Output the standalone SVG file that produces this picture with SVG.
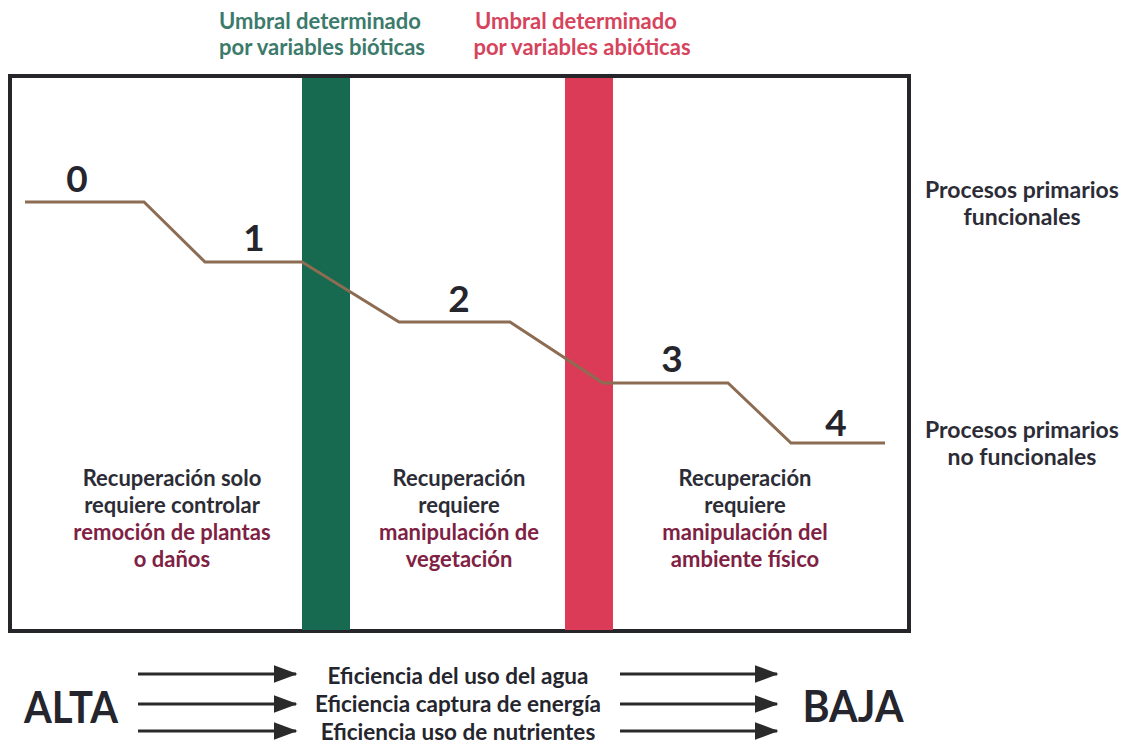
<svg xmlns="http://www.w3.org/2000/svg" width="1133" height="748" viewBox="0 0 1133 748">
<style>
text{font-family:Lato,"Open Sans","Liberation Sans",sans-serif;font-weight:bold;text-anchor:middle}
.top{font-size:22px}
.g{fill:#3c7a6c}
.r{fill:#d6435c}
.reg{font-size:22px;fill:#2c2c36}
.m{fill:#7e2143}
.num{font-size:37px;fill:#25252d}
.side{font-size:23px;fill:#2c2c36}
.eff{font-size:22.5px;fill:#25252d}
.big{font-size:43px;fill:#25252d}
.step{fill:none;stroke:#8c6c52;stroke-width:3;stroke-linejoin:miter}
.arr{stroke:#2a2a2a;stroke-width:3;fill:none}
</style>
<defs>
<marker id="ah" markerWidth="8" markerHeight="6" refX="7.5" refY="3" orient="auto" markerUnits="strokeWidth">
<path d="M0,0 L8,3 L0,6 Z" fill="#2a2a2a"/>
</marker>
</defs>
<rect width="1133" height="748" fill="#ffffff"/>
<g id="frame">
<rect x="10" y="76" width="899" height="555" fill="none" stroke="#26262a" stroke-width="4"/>
</g>
<g id="threshold-biotic">
<rect x="302" y="78" width="48" height="552" fill="#17694f"/>
<text class="top g" x="320" y="29">Umbral determinado</text>
<text class="top g" x="322" y="55">por variables bióticas</text>
</g>
<g id="threshold-abiotic">
<rect x="565" y="78" width="48" height="552" fill="#dc3b57"/>
<text class="top r" x="576" y="29">Umbral determinado</text>
<text class="top r" x="582" y="55">por variables abióticas</text>
</g>
<g id="connectors">
<polyline class="step" points="25,202 144,202 205,262 302,262 399,322 510,322 603,383 728,383 791,443 885,443"/>
</g>
<g id="state-0"><text class="num" x="77" y="192">0</text></g>
<g id="state-1"><text class="num" x="254" y="251">1</text></g>
<g id="state-2"><text class="num" x="459" y="312">2</text></g>
<g id="state-3"><text class="num" x="672" y="372">3</text></g>
<g id="state-4"><text class="num" x="836" y="436">4</text></g>
<g id="region-1">
<text class="reg" x="172" y="486">Recuperación solo</text>
<text class="reg" x="172" y="513">requiere controlar</text>
<text class="reg m" x="172" y="540">remoción de plantas</text>
<text class="reg m" x="172" y="567">o daños</text>
</g>
<g id="region-2">
<text class="reg" x="459" y="486">Recuperación</text>
<text class="reg" x="459" y="513">requiere</text>
<text class="reg m" x="459" y="540">manipulación de</text>
<text class="reg m" x="459" y="567">vegetación</text>
</g>
<g id="region-3">
<text class="reg" x="745" y="486">Recuperación</text>
<text class="reg" x="745" y="513">requiere</text>
<text class="reg m" x="745" y="540">manipulación del</text>
<text class="reg m" x="745" y="567">ambiente físico</text>
</g>
<g id="label-functional">
<text class="side" x="1022" y="198">Procesos primarios</text>
<text class="side" x="1022" y="225">funcionales</text>
</g>
<g id="label-nonfunctional">
<text class="side" x="1022" y="438">Procesos primarios</text>
<text class="side" x="1022" y="465">no funcionales</text>
</g>
<g id="efficiency">
<text class="big" x="71" y="723" textLength="94" lengthAdjust="spacingAndGlyphs">ALTA</text>
<text class="big" x="853" y="722" textLength="101" lengthAdjust="spacingAndGlyphs">BAJA</text>
<text class="eff" x="458" y="684">Eficiencia del uso del agua</text>
<text class="eff" x="458" y="712">Eficiencia captura de energía</text>
<text class="eff" x="458" y="740">Eficiencia uso de nutrientes</text>
</g>
<g id="arrows">
<line class="arr" x1="138" y1="674" x2="296" y2="674" marker-end="url(#ah)"/>
<line class="arr" x1="138" y1="704" x2="296" y2="704" marker-end="url(#ah)"/>
<line class="arr" x1="138" y1="731" x2="296" y2="731" marker-end="url(#ah)"/>
<line class="arr" x1="620" y1="674" x2="777" y2="674" marker-end="url(#ah)"/>
<line class="arr" x1="620" y1="704" x2="777" y2="704" marker-end="url(#ah)"/>
<line class="arr" x1="620" y1="731" x2="777" y2="731" marker-end="url(#ah)"/>
</g>
</svg>
